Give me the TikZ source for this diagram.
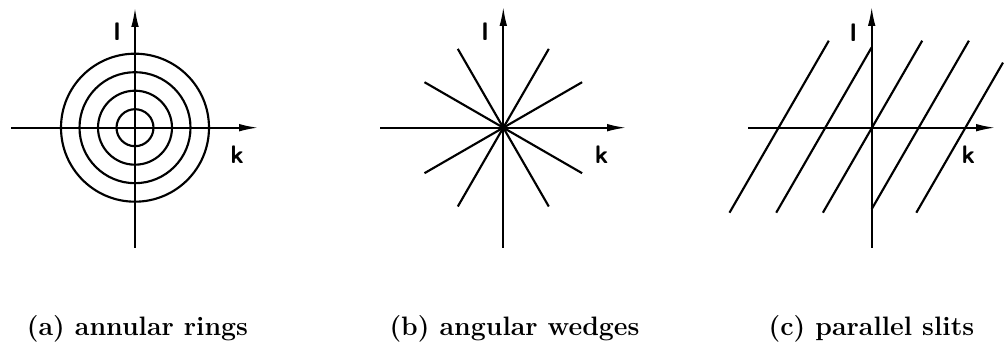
\documentclass[tikz,border=0pt]{standalone}
\usetikzlibrary{arrows.meta}
\tikzset{
  every picture/.style={line width=1.5pt},
  axis/.style={-{Latex[length=5mm,width=2mm]}, draw=black, line width=1.3pt},
  ring/.style={draw=black, line width=1.6pt},
  spoke/.style={draw=black, line width=1.6pt},
  slit/.style={draw=black, line width=1.6pt},
  lbl/.style={font=\fontsize{19}{19}\selectfont\sffamily\bfseries, inner sep=0pt},
  subcap/.style={font=\fontsize{20}{24}\selectfont\bfseries, inner sep=0pt},
}

\begin{document}
\begin{tikzpicture}[x=0.75pt, y=-0.75pt]
  \useasboundingbox (0,0) rectangle (1004,352);

  % (a) annular rings
  \coordinate (oa) at (135,127.7);
  \coordinate (ak0) at (11,127.7);  \coordinate (ak1) at (258,127.7);
  \coordinate (al0) at (135,248);   \coordinate (al1) at (135,8);
  \foreach \r in {18.5,37,55.5,74} \draw[ring] (oa) circle[radius=\r];
  \draw[axis] (ak0) -- (ak1);
  \draw[axis] (al0) -- (al1);
  \node[lbl] (la) at (117,32) {l};
  \node[lbl] (ka) at (237,155) {k};

  % (b) angular wedges
  \coordinate (ob) at (503.3,127.7);
  \coordinate (bk0) at (380,127.7); \coordinate (bk1) at (626,127.7);
  \coordinate (bl0) at (503.3,248); \coordinate (bl1) at (503.3,7);
  \foreach \a in {30,60,120,150}
    \draw[spoke] ([shift={(\a:91)}]ob) -- ([shift={(\a+180:91)}]ob);
  \draw[axis] (bk0) -- (bk1);
  \draw[axis] (bl0) -- (bl1);
  \node[lbl] (lb) at (485,32) {l};
  \node[lbl] (kb) at (601.7,155) {k};

  % (c) parallel slits
  \coordinate (ck0) at (748,127.7); \coordinate (ck1) at (995,127.7);
  \coordinate (cl0) at (871.7,248); \coordinate (cl1) at (871.7,7);
  \foreach \x/\y/\u/\v in {729.5/212.7/828.8/40.7, 776.2/212.7/871.7/47.3,
      822.9/212.7/922.2/40.7, 871.7/209.1/968.9/40.7, 916.3/212.7/1003/62.6}
    \draw[slit] (\x,\y) -- (\u,\v);
  \draw[axis] (ck0) -- (ck1);
  \draw[axis] (cl0) -- (cl1);
  \node[lbl] (lc) at (853.3,33) {l};
  \node[lbl] (kc) at (968.3,155) {k};

  % captions
  \node[subcap] (capa) at (137.5,329) {(a) annular rings};
  \node[subcap] (capb) at (514.5,329) {(b) angular wedges};
  \node[subcap] (capc) at (871.5,329) {(c) parallel slits};
\end{tikzpicture}
\end{document}
